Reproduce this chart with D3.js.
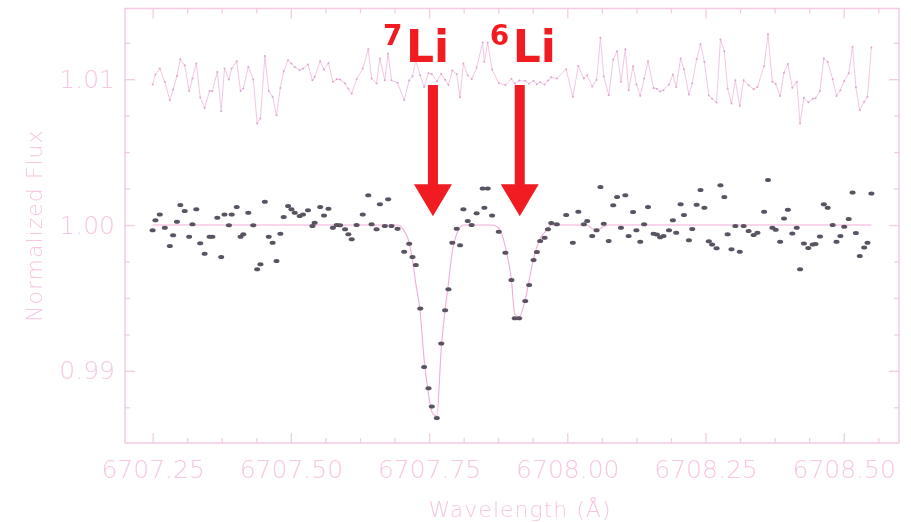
<!DOCTYPE html>
<html>
<head>
<meta charset="utf-8">
<script src="https://cdn.jsdelivr.net/npm/d3@7"></script>
<style>
  body { margin: 0; background: #fff; }
  .tick text { font-family: "DejaVu Sans", sans-serif; font-weight: 200; }
</style>
</head>
<body>
<div id="chart"></div>
<script>
const width = 911,
  height = 522,
  margin = { top: 8.5, right: 12, bottom: 79, left: 125 };

// observed spectrum (wavelength in A, normalized flux)
const wave = [
  6707.250, 6707.255, 6707.263, 6707.272, 6707.281, 6707.287, 6707.294, 6707.300, 6707.308, 6707.316,
  6707.322, 6707.329, 6707.336, 6707.344, 6707.353, 6707.358, 6707.367, 6707.374, 6707.380, 6707.388,
  6707.393, 6707.402, 6707.409, 6707.414, 6707.423, 6707.432, 6707.439, 6707.445, 6707.453, 6707.460,
  6707.467, 6707.474, 6707.481, 6707.487, 6707.495, 6707.501, 6707.507, 6707.516, 6707.522, 6707.531,
  6707.539, 6707.543, 6707.553, 6707.560, 6707.568, 6707.576, 6707.583, 6707.589, 6707.598, 6707.604,
  6707.610, 6707.619, 6707.630, 6707.640, 6707.646, 6707.655, 6707.661, 6707.670, 6707.676, 6707.682,
  6707.693, 6707.705, 6707.714, 6707.720, 6707.726, 6707.734, 6707.741, 6707.749, 6707.755, 6707.764,
  6707.772, 6707.779, 6707.785, 6707.792, 6707.800, 6707.806, 6707.812, 6707.820, 6707.827, 6707.836,
  6707.847, 6707.850, 6707.856, 6707.864, 6707.876, 6707.888, 6707.899, 6707.905, 6707.913, 6707.924,
  6707.931, 6707.939, 6707.945, 6707.951, 6707.959, 6707.965, 6707.971, 6707.981, 6707.998, 6708.010,
  6708.020, 6708.030, 6708.036, 6708.045, 6708.053, 6708.060, 6708.066, 6708.075, 6708.083, 6708.090,
  6708.097, 6708.105, 6708.111, 6708.119, 6708.125, 6708.132, 6708.139, 6708.146, 6708.156, 6708.162,
  6708.168, 6708.174, 6708.184, 6708.191, 6708.197, 6708.205, 6708.211, 6708.220, 6708.226, 6708.234,
  6708.241, 6708.248, 6708.256, 6708.262, 6708.270, 6708.277, 6708.284, 6708.290, 6708.297, 6708.304,
  6708.312, 6708.319, 6708.328, 6708.337, 6708.344, 6708.356, 6708.363, 6708.371, 6708.377, 6708.385,
  6708.392, 6708.399, 6708.407, 6708.415, 6708.421, 6708.428, 6708.436, 6708.444, 6708.449, 6708.457,
  6708.464, 6708.471, 6708.480, 6708.487, 6708.494, 6708.501, 6708.509, 6708.516, 6708.522, 6708.529,
  6708.537, 6708.543, 6708.550
];

const flux = [
  0.99964, 1.00032, 1.00073, 0.99982, 0.99856, 0.99929, 1.00023, 1.00137, 1.00096, 0.99920,
  1.00005, 1.00108, 0.99875, 0.99803, 0.99920, 0.99920, 1.00050, 0.99781, 1.00073, 0.99998,
  1.00073, 1.00123, 0.99920, 0.99936, 1.00084, 0.99998, 0.99697, 0.99731, 1.00160, 0.99920,
  0.99879, 0.99753, 0.99940, 1.00055, 1.00130, 1.00108, 1.00084, 1.00062, 1.00073, 1.00101,
  0.99993, 1.00016, 1.00123, 1.00066, 1.00112, 0.99982, 1.00000, 0.99998, 0.99971, 0.99936,
  0.99902, 1.00000, 1.00073, 1.00205, 1.00005, 0.99971, 1.00142, 0.99993, 1.00176, 0.99993,
  0.99975, 0.99817, 0.99872, 0.99781, 0.99726, 0.99427, 0.99027, 0.98881, 0.98755, 0.98676,
  0.99187, 0.99416, 0.99560, 0.99879, 0.99975, 0.99861, 1.00108, 1.00027, 1.00000, 1.00080,
  1.00251, 1.00118, 1.00251, 1.00066, 0.99954, 0.99810, 0.99623, 0.99361, 0.99361, 0.99479,
  0.99589, 0.99760, 0.99815, 0.99890, 0.99913, 0.99971, 1.00014, 1.00005, 1.00068, 0.99879,
  1.00091, 1.00005, 1.00027, 0.99925, 0.99964, 1.00260, 1.00009, 0.99890, 1.00135, 1.00192,
  0.99982, 1.00205, 0.99925, 1.00089, 0.99964, 0.99886, 1.00005, 1.00123, 0.99940, 0.99935,
  0.99916, 0.99925, 0.99964, 1.00032, 0.99947, 1.00142, 1.00068, 0.99895, 0.99973, 1.00139,
  1.00240, 1.00118, 0.99888, 0.99866, 0.99840, 1.00273, 1.00192, 0.99936, 0.99834, 0.99993,
  0.99817, 0.99993, 0.99959, 0.99932, 0.99947, 1.00091, 1.00308, 0.99982, 0.99968, 0.99885,
  1.00045, 1.00105, 0.99942, 0.99982, 0.99697, 0.99873, 0.99842, 0.99866, 0.99870, 0.99921,
  1.00142, 1.00118, 1.00000, 0.99885, 0.99925, 0.99988, 1.00041, 1.00223, 0.99945, 0.99788,
  0.99845, 0.99879, 1.00217
];

// synthetic fit at the same wavelengths
const fit = [
  1, 1, 1, 1, 1, 1, 1, 1, 1, 1,
  1, 1, 1, 1, 1, 1, 1, 1, 1, 1,
  1, 1, 1, 1, 1, 1, 1, 1, 1, 1,
  1, 1, 1, 1, 1, 1, 1, 1, 1, 1,
  1, 1, 1, 1, 1, 1, 1, 1, 1, 1,
  1, 1, 1, 1, 1, 1, 1, 1, 1, 1,
  1, 0.99960, 0.99880, 0.99760, 0.99600, 0.99400, 0.99080, 0.98840, 0.98720, 0.98690,
  0.99150, 0.99420, 0.99600, 0.99820, 0.99940, 0.99985, 1, 1, 1, 1,
  1, 1, 1, 1, 0.99980, 0.99850, 0.99620, 0.99390, 0.99370, 0.99490,
  0.99620, 0.99770, 0.99850, 0.99910, 0.99950, 0.99980, 1, 1, 1, 1,
  1, 1, 1, 0.99975, 0.99970, 0.99975, 0.99990, 1, 1, 1,
  1, 1, 1, 1, 1, 1, 1, 1, 1, 1,
  1, 1, 1, 1, 1, 1, 1, 1, 1, 1,
  1, 1, 1, 1, 1, 1, 1, 1, 1, 1,
  1, 1, 1, 1, 1, 1, 1, 1, 1, 1,
  1, 1, 1, 1, 1, 1, 1, 1, 1, 1,
  1, 1, 1, 1, 1, 1, 1, 1, 1, 1,
  1, 1, 1
];

const residualOffset = 1.01;

const xTicks = [6707.25, 6707.50, 6707.75, 6708.00, 6708.25, 6708.50];
const xMinor = [6707.3125, 6707.375, 6707.4375, 6707.5625, 6707.625, 6707.6875, 6707.8125, 6707.875,
  6707.9375, 6708.0625, 6708.125, 6708.1875, 6708.3125, 6708.375, 6708.4375, 6708.5625];
const yTicks = [0.99, 1.00, 1.01];
const yMinor = [0.9875, 0.9925, 0.995, 0.9975, 1.0025, 1.005, 1.0075, 1.0125];

// line markers
const lineMass = ["7", "6"];
const lineWave = [6707.757, 6707.914];
const labelShift = [-50, -30];
const arrowTop = 1.0096, arrowHead = 1.0028, arrowTip = 1.0006;

const axisColor = "#f5cbe4",
  labelColor = "#f6c6e2",
  dotColor = "#5a5262",
  fitColor = "#f2acd6",
  residColor = "#efbfe0",
  red = "#f01e24";

const points = wave.map((w, i) => ({ w, f: flux[i], m: fit[i], r: flux[i] - fit[i] + residualOffset }));

const x = d3.scaleLinear().domain([6707.2, 6708.6]).range([margin.left, width - margin.right]);
const y = d3.scaleLinear().domain([0.98505, 1.01485]).range([height - margin.bottom, margin.top]);

const svg = d3.select("#chart").append("svg")
  .attr("width", width)
  .attr("height", height);

svg.append("defs").append("filter")
  .attr("id", "soft")
  .append("feGaussianBlur")
  .attr("stdDeviation", 0.6);

const root = svg.append("g").attr("filter", "url(#soft)");

// frame
root.append("rect")
  .attr("x", x.range()[0])
  .attr("y", y.range()[1])
  .attr("width", x.range()[1] - x.range()[0])
  .attr("height", y.range()[0] - y.range()[1])
  .attr("fill", "none")
  .attr("stroke", axisColor)
  .attr("stroke-width", 1.5);

function styleAxis(g) {
  g.select(".domain").remove();
  g.selectAll(".tick line").attr("stroke", axisColor).attr("stroke-width", 1.3);
  g.selectAll(".tick text").attr("fill", labelColor).attr("font-size", 25);
}

const bottom = height - margin.bottom, right = width - margin.right;

root.append("g").attr("transform", `translate(0,${bottom})`)
  .call(d3.axisBottom(x).tickValues(xTicks).tickFormat(d3.format(".2f")).tickSizeInner(-10).tickSizeOuter(0).tickPadding(17))
  .call(styleAxis);
root.append("g").attr("transform", `translate(0,${bottom})`)
  .call(d3.axisBottom(x).tickValues(xMinor).tickFormat("").tickSizeInner(-5).tickSizeOuter(0))
  .call(styleAxis);
root.append("g").attr("transform", `translate(0,${margin.top})`)
  .call(d3.axisTop(x).tickValues(xTicks).tickFormat("").tickSizeInner(-10).tickSizeOuter(0))
  .call(styleAxis);
root.append("g").attr("transform", `translate(0,${margin.top})`)
  .call(d3.axisTop(x).tickValues(xMinor).tickFormat("").tickSizeInner(-5).tickSizeOuter(0))
  .call(styleAxis);

root.append("g").attr("transform", `translate(${margin.left},0)`)
  .call(d3.axisLeft(y).tickValues(yTicks).tickFormat(d3.format(".2f")).tickSizeInner(-10).tickSizeOuter(0).tickPadding(10))
  .call(styleAxis);
root.append("g").attr("transform", `translate(${margin.left},0)`)
  .call(d3.axisLeft(y).tickValues(yMinor).tickFormat("").tickSizeInner(-5).tickSizeOuter(0))
  .call(styleAxis);
root.append("g").attr("transform", `translate(${right},0)`)
  .call(d3.axisRight(y).tickValues(yTicks).tickFormat("").tickSizeInner(-10).tickSizeOuter(0))
  .call(styleAxis);
root.append("g").attr("transform", `translate(${right},0)`)
  .call(d3.axisRight(y).tickValues(yMinor).tickFormat("").tickSizeInner(-5).tickSizeOuter(0))
  .call(styleAxis);

// axis titles
root.append("text")
  .attr("transform", `translate(42,${(margin.top + bottom) / 2}) rotate(-90)`)
  .attr("text-anchor", "middle")
  .attr("font-family", "DejaVu Sans, sans-serif")
  .attr("font-weight", 200)
  .attr("font-size", 22)
  .attr("letter-spacing", 1)
  .attr("fill", labelColor)
  .text("Normalized Flux");

root.append("text")
  .attr("x", 520)
  .attr("y", 517)
  .attr("text-anchor", "middle")
  .attr("font-family", "DejaVu Sans, sans-serif")
  .attr("font-weight", 200)
  .attr("font-size", 22)
  .attr("letter-spacing", 1)
  .attr("fill", labelColor)
  .text("Wavelength (Å)");

// residuals, shifted up
root.append("path")
  .datum(points)
  .attr("fill", "none")
  .attr("stroke", residColor)
  .attr("stroke-width", 0.9)
  .attr("d", d3.line().x(d => x(d.w)).y(d => y(d.r)));

root.append("g")
  .selectAll("circle")
  .data(points)
  .join("circle")
  .attr("cx", d => x(d.w))
  .attr("cy", d => y(d.r))
  .attr("r", 1)
  .attr("fill", "#e2a2cf");

// fit
root.append("path")
  .datum(points)
  .attr("fill", "none")
  .attr("stroke", fitColor)
  .attr("stroke-width", 1.1)
  .attr("d", d3.line().curve(d3.curveMonotoneX).x(d => x(d.w)).y(d => y(d.m)));

// observed points
root.append("g")
  .selectAll("ellipse")
  .data(points)
  .join("ellipse")
  .attr("cx", d => x(d.w))
  .attr("cy", d => y(d.f))
  .attr("rx", 3)
  .attr("ry", 2)
  .attr("fill", dotColor);

// arrows and labels
const marks = root.append("g")
  .selectAll("g")
  .data(lineWave.map((w, i) => ({ w, mass: lineMass[i], shift: labelShift[i] })))
  .join("g");

marks.append("path")
  .attr("fill", red)
  .attr("d", d => {
    const cx = x(d.w), t = y(arrowTop), h = y(arrowHead), tip = y(arrowTip);
    return `M${cx - 5},${t}L${cx + 5},${t}L${cx + 5},${h}L${cx + 19},${h}L${cx},${tip}L${cx - 19},${h}L${cx - 5},${h}Z`;
  });

marks.append("text")
  .attr("x", d => x(d.w) + d.shift)
  .attr("y", d => y(arrowTop) - 40)
  .attr("font-family", "DejaVu Sans, sans-serif")
  .attr("font-weight", "bold")
  .attr("font-size", 28)
  .attr("fill", red)
  .text(d => d.mass);

marks.append("text")
  .attr("x", d => x(d.w) + d.shift + 23)
  .attr("y", d => y(arrowTop) - 23)
  .attr("font-family", "DejaVu Sans, sans-serif")
  .attr("font-weight", "bold")
  .attr("font-size", 44)
  .attr("fill", red)
  .text("Li");
</script>
</body>
</html>
